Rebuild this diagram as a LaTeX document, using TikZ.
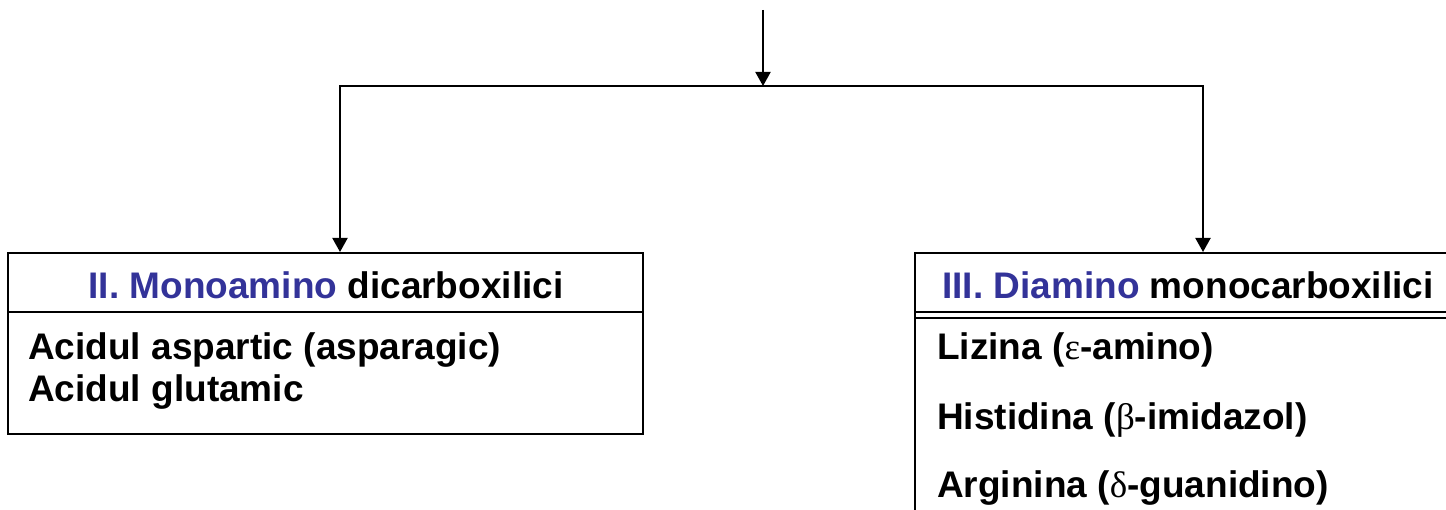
\documentclass[tikz,border=0pt]{standalone}
\usepackage{fontspec}
\setmainfont{Liberation Sans}
\newfontfamily\grk{Liberation Serif}
\usetikzlibrary{arrows.meta}
\definecolor{hdblue}{RGB}{51,51,153}
\tikzset{
  link/.style={line width=2pt, -{Triangle[length=14pt,width=15pt]}},
  frame/.style={draw, line width=2pt, inner sep=0pt, anchor=north west},
  rule/.style={line width=2pt},
  body/.style={anchor=base west, inner sep=0pt, font=\fontsize{37}{44}\selectfont\bfseries},
  head/.style={anchor=base, inner sep=0pt, font=\fontsize{37}{44}\selectfont\bfseries},
}
\newcommand\gk[1]{{\grk\mdseries #1}}

\begin{document}
\begin{tikzpicture}[x=1pt,y=-1pt]
\useasboundingbox (0,0) rectangle (1446,510);
\clip (0,0) rectangle (1446,510);

% boxes
\node[frame, minimum width=635pt, minimum height=181pt] (lbox) at (7,252) {};
\node[frame, minimum width=560pt, minimum height=300pt] (rbox) at (914,252) {};

% header separators
\draw[rule] ([yshift=-60pt]lbox.north west) -- ([yshift=-60pt]lbox.north east);
\draw[rule] ([yshift=-60pt]rbox.north west) -- ([yshift=-60pt]rbox.north east);
\draw[rule] ([yshift=-66.5pt]rbox.north west) -- ([yshift=-66.5pt]rbox.north east);

% headers
\node[head] (lhead) at (326,299) {\textcolor{hdblue}{II. Monoamino} dicarboxilici};
\node[head] (rhead) at (1188,299) {\textcolor{hdblue}{III. Diamino} monocarboxilici};

% contents
\node[body] (asp) at (28,360) {Acidul aspartic (asparagic)};
\node[body] (glu) at (28,402) {Acidul glutamic};
\node[body] (lys) at (937,360) {Lizina (\gk{ε}-amino)};
\node[body] (his) at (937,429) {Histidina (\gk{β}-imidazol)};
\node[body] (arg) at (937,497) {Arginina (\gk{δ}-guanidino)};

% connectors
\coordinate (src) at (763,10);
\coordinate (hub) at (763,86);
\coordinate (lin) at (340,252);
\coordinate (rin) at (1203,252);
\draw[link] (src) -- (hub);
\draw[link] (hub) -| (lin);
\draw[link] (hub) -| (rin);
\end{tikzpicture}
\end{document}
